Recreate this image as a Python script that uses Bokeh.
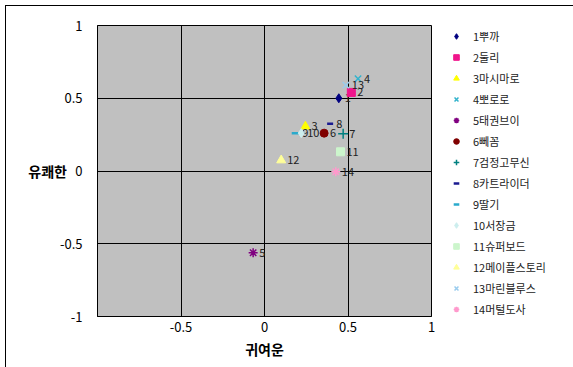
from bokeh.plotting import figure
from bokeh.layouts import row
from bokeh.models import (Range1d, FixedTicker, Legend, LegendItem, ColumnDataSource)
from bokeh.core.properties import value
from bokeh.embed import file_html
from bokeh.resources import INLINE

# ---- data ----
names = ["1뿌까", "2둘리", "3마시마로", "4뽀로로", "5태권브이", "6뻬꼼", "7검정고무신",
         "8카트라이더", "9딸기", "10서장금", "11슈퍼보드", "12메이플스토리", "13마린블루스", "14머털도사"]
point_labels = ["1", "2", "3", "4", "5", "6", "7", "8", "9", "10", "11", "12", "13", "14"]
cute = [0.445, 0.52, 0.245, 0.56, -0.068, 0.357, 0.471, 0.393, 0.19, 0.22, 0.455, 0.10, 0.487, 0.427]
pleasant = [0.50, 0.54, 0.306, 0.634, -0.562, 0.26, 0.256, 0.324, 0.26, 0.26, 0.132, 0.074, 0.59, -0.005]

x_ticks = [-0.5, 0, 0.5, 1]
x_tick_labels = ["-0.5", "0", "0.5", "1"]
y_ticks = [-1, -0.5, 0, 0.5, 1]
y_tick_labels = ["-1", "-0.5", "0", "0.5", "1"]
x_title = "귀여운"
y_title = "유쾌한"

# ---- styles ----
markers = ["diamond", "square", "triangle", "x", "asterisk", "circle", "cross",
           "dash", "dash", "diamond", "square", "triangle", "x", "asterisk"]
colors = ["#000080", "#F0168C", "#FFFF00", "#33B3CC", "#800080", "#800000", "#008080",
          "#1A1A90", "#2AAACC", "#CCEEEE", "#CCF5CC", "#FFFF99", "#99CCEE", "#FF99CC"]
sizes = [9, 8, 9, 9, 9, 8, 10, 6, 9, 9, 8, 9, 9, 9]
widths = [1, 1, 1, 1.5, 1.5, 1, 1.5, 2.5, 2.5, 1, 1, 1, 1.5, 1.5]

FONT = "Noto Sans CJK KR"

# ---- main plot ----
p = figure(width=440, height=362, output_backend="svg", toolbar_location=None,
           x_range=Range1d(-1, 1), y_range=Range1d(-1, 1),
           min_border_left=91, min_border_right=15, min_border_top=19, min_border_bottom=52)
p.margin = (5, 0, 0, 5)
p.styles = {"border-top": "1px solid #000000", "border-left": "1px solid #000000"}

p.background_fill_color = "#C0C0C0"
p.border_fill_color = "white"
p.outline_line_color = "#000000"
p.outline_line_width = 1

p.xaxis.ticker = FixedTicker(ticks=x_ticks)
p.yaxis.ticker = FixedTicker(ticks=y_ticks)
p.xaxis.major_label_overrides = dict(zip(x_ticks, x_tick_labels))
p.yaxis.major_label_overrides = dict(zip(y_ticks, y_tick_labels))
for ax in (p.xaxis, p.yaxis):
    ax.major_tick_out = 0
    ax.major_tick_in = 0
    ax.minor_tick_out = 0
    ax.minor_tick_in = 0
    ax.axis_line_color = "#000000"
    ax.major_label_text_font = FONT
    ax.major_label_text_font_size = "13px"
    ax.major_label_text_color = "#000000"
    ax.axis_label_text_font = FONT
    ax.axis_label_text_font_size = "14px"
    ax.axis_label_text_font_style = "bold"
    ax.axis_label_text_color = "#000000"

p.xaxis.axis_label = x_title
p.yaxis.axis_label = y_title
p.xaxis.major_label_standoff = 5
p.yaxis.major_label_standoff = 15
p.xaxis.axis_label_standoff = 4
p.yaxis.axis_label_standoff = -10
p.yaxis.axis_label_orientation = "horizontal"

p.xgrid.ticker = FixedTicker(ticks=x_ticks)
p.ygrid.ticker = FixedTicker(ticks=y_ticks)
for g in (p.xgrid, p.ygrid):
    g.grid_line_color = "#000000"
    g.grid_line_width = 1

# ---- legend panel (separate figure, hidden copies of the series) ----
q = figure(width=128, height=362, output_backend="svg", toolbar_location=None,
           x_range=Range1d(-1, 1), y_range=Range1d(-1, 1),
           min_border_left=0, min_border_right=0, min_border_top=0, min_border_bottom=0)
q.margin = (5, 0, 0, 0)
q.styles = {"border-top": "1px solid #000000"}
q.axis.visible = False
q.grid.visible = False
q.outline_line_color = None
q.background_fill_color = "white"
q.border_fill_color = "white"

items = []
for i in range(len(names)):
    src = ColumnDataSource(dict(x=[cute[i]], y=[pleasant[i]], t=[point_labels[i]]))
    p.scatter("x", "y", source=src, marker=markers[i], size=sizes[i],
              fill_color=colors[i], line_color=colors[i], line_width=widths[i])
    p.text("x", "y", text="t", source=src, x_offset=6, text_align="left",
           text_baseline="middle", text_font=value(FONT), text_font_size="11px",
           text_color="#222222")
    rq = q.scatter("x", "y", source=src, marker=markers[i], size=sizes[i],
                   fill_color=colors[i], line_color=colors[i], line_width=widths[i],
                   visible=False)
    items.append(LegendItem(label=names[i], renderers=[rq]))

legend = Legend(items=items, location=(4, -3), orientation="vertical")
legend.padding = 0
legend.margin = 0
legend.spacing = 1
legend.glyph_width = 14
legend.glyph_height = 20
legend.label_height = 20
legend.label_standoff = 10
legend.label_text_font = FONT
legend.label_text_font_size = "11px"
legend.label_text_color = "#222222"
legend.border_line_alpha = 0
legend.background_fill_alpha = 0
legend.inactive_fill_alpha = 0
legend.click_policy = "none"
q.add_layout(legend, "center")

layout = row(p, q)
open("out.html", "w").write(file_html(layout, INLINE))
